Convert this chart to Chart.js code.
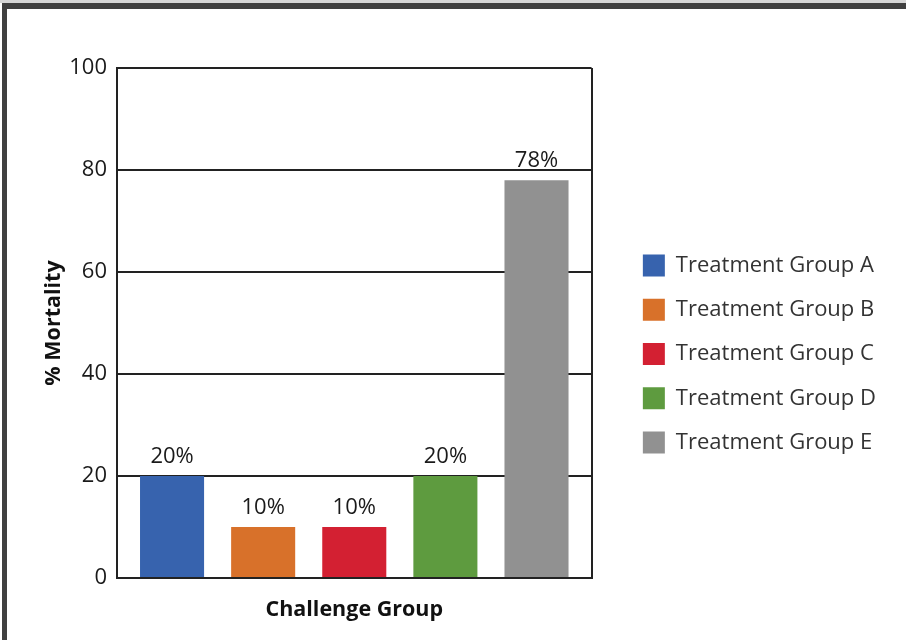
<!DOCTYPE html>
<html>
<head>
<meta charset="utf-8">
<script src="https://cdn.jsdelivr.net/npm/chart.js@4"></script>
<style>
  html, body { margin: 0; padding: 0; background: #fff; }
  #strip { position: absolute; left: 0; top: 0; width: 906px; height: 3px; background: #d6d6d6; }
  #frame { position: absolute; left: 2px; top: 3px; width: 910px; height: 650px;
           border-top: 6px solid #404040; border-left: 5px solid #404040; box-sizing: border-box; }
  #wrap { position: absolute; left: 0; top: 0; width: 906px; height: 640px; }
</style>
</head>
<body>
<div id="strip"></div>
<div id="frame"></div>
<div id="wrap"><canvas id="mortChart" width="906" height="640"></canvas></div>
<script>
  // data
  const groups = ['Treatment Group A', 'Treatment Group B', 'Treatment Group C', 'Treatment Group D', 'Treatment Group E'];
  const mortality = [20, 10, 10, 20, 78];
  const groupColors = ['#3763ae', '#d8712a', '#d32032', '#5e9b3f', '#919191'];
  const yTicks = [0, 20, 40, 60, 80, 100];
  const challenge = [''];

  const FONT = "'Open Sans', 'Noto Sans', sans-serif";

  // puts "NN%" above each bar
  const valueLabels = {
    id: 'valueLabels',
    afterDatasetsDraw(chart) {
      const ctx = chart.ctx;
      ctx.save();
      ctx.font = '22px ' + FONT;
      ctx.fillStyle = '#1a1a1a';
      ctx.textAlign = 'center';
      ctx.textBaseline = 'alphabetic';
      chart.data.datasets.forEach((ds, i) => {
        const bar = chart.getDatasetMeta(i).data[0];
        ctx.fillText(ds.data[0] + '%', bar.x, bar.y - 13);
      });
      ctx.restore();
    }
  };

  const ctx = document.getElementById('mortChart').getContext('2d');
  new Chart(ctx, {
    type: 'bar',
    data: {
      labels: challenge,
      datasets: groups.map((g, i) => ({
        label: g,
        data: [mortality[i]],
        backgroundColor: groupColors[i],
        borderWidth: 0,
        categoryPercentage: 0.96,
        barPercentage: 0.703
      }))
    },
    options: {
      responsive: false,
      animation: false,
      layout: { padding: { left: 0, top: 68, right: 20, bottom: 0 } },
      plugins: {
        legend: {
          position: 'right',
          maxWidth: 400,
          labels: {
            boxWidth: 22,
            boxHeight: 22,
            padding: 22.3,
            color: '#333',
            font: { family: FONT, size: 22 }
          }
        },
        tooltip: { enabled: false }
      },
      scales: {
        x: {
          grid: { display: true, color: '#222', lineWidth: 2, drawTicks: false },
          border: { display: true, color: '#222', width: 2 },
          ticks: { display: false },
          title: {
            display: true,
            text: 'Challenge Group',
            color: '#111',
            font: { family: FONT, size: 21.5, weight: 'bold' },
            padding: { top: 0, bottom: 17 }
          },
          afterFit: (s) => { s.height = 62; }
        },
        y: {
          min: 0,
          max: 100,
          afterBuildTicks: (s) => { s.ticks = yTicks.map(v => ({ value: v })); },
          grid: { color: '#222', lineWidth: 2, drawTicks: false },
          border: { display: true, color: '#222', width: 2 },
          ticks: {
            padding: 10,
            color: '#1a1a1a',
            font: { family: FONT, size: 22 }
          },
          title: {
            display: true,
            text: '% Mortality',
            color: '#111',
            font: { family: FONT, size: 21.5, weight: 'bold' },
            padding: { top: 41, bottom: 0 }
          },
          afterFit: (s) => { s.width = 117; }
        },
        // empty spacer between plot and legend
        gap: {
          type: 'linear',
          position: 'right',
          display: true,
          grid: { display: false },
          border: { display: false },
          ticks: { display: false },
          afterFit: (s) => { s.width = 29; }
        }
      }
    },
    plugins: [valueLabels]
  });
</script>
</body>
</html>
